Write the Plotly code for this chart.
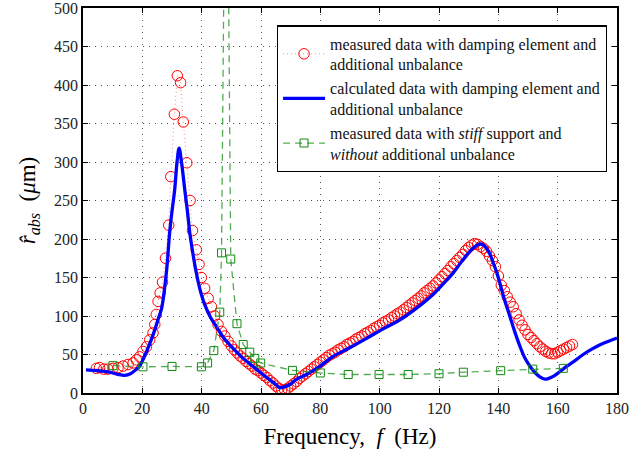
import plotly.graph_objects as go

f_meas = [4.5, 5.6, 7.0, 8.4, 10.1, 11.8, 13.5, 15.2, 16.9, 18.0, 19.1, 20.2, 21.4,
          22.5, 23.6, 24.2, 24.7, 25.3, 26.0, 26.8, 27.8, 28.9, 29.6, 30.8, 31.8,
          32.9, 33.8, 35.0, 36.1, 36.9, 38.2, 39.1, 39.9, 41.0, 42.2, 43.3, 44.4,
          45.5, 46.7, 47.8, 48.9, 50.0, 51.0, 52.0, 53.0, 54.0, 55.0, 56.0, 57.0,
          58.0, 59.0, 60.0, 61.0, 62.0, 63.0, 64.0, 65.0, 66.0, 67.0, 68.0, 69.0,
          70.0, 71.0, 72.0, 73.0, 74.0, 75.0, 76.0, 77.0, 78.0, 79.0, 80.0, 81.0,
          82.0, 83.0, 84.0, 85.0, 86.0, 87.0, 88.0, 89.0, 90.0, 91.0, 92.0, 93.0,
          94.0, 95.0, 96.0, 97.0, 98.0, 99.0, 100.0, 101.0, 102.0, 103.0, 104.0,
          105.0, 106.0, 107.0, 108.0, 109.0, 110.0, 111.0, 112.0, 113.0, 114.0,
          115.0, 116.0, 117.0, 118.0, 119.0, 120.0, 121.0, 122.0, 123.0, 124.0,
          125.0, 126.0, 127.0, 128.0, 129.0, 130.0, 131.0, 132.0, 133.0, 134.0,
          135.0, 136.0, 137.0, 138.0, 139.0, 140.0, 141.0, 142.0, 143.0, 144.0,
          145.0, 146.0, 147.0, 148.0, 149.0, 150.0, 151.0, 152.0, 153.0, 154.0,
          155.0, 156.0, 157.0, 158.0, 159.0, 160.0, 161.0, 162.0, 163.0, 164.0, 165.0]
r_meas = [32, 33, 31, 31, 32, 33, 35, 37, 39, 43, 47, 54, 60,
          69, 78, 89, 102, 119, 130, 144, 175, 218, 281, 362, 412,
          403, 352, 299, 250, 211, 186, 167, 150, 136, 123, 112, 100,
          89, 80, 74, 67, 61, 56, 52, 48, 45, 41, 38, 35,
          31, 29, 26, 23, 20, 16, 13, 9, 6, 4, 4, 6,
          9, 12, 15, 19, 22, 25, 28, 31, 34, 37, 40, 43,
          46, 49, 51, 53, 56, 58, 60, 63, 65, 67, 70, 72,
          74, 77, 79, 81, 84, 86, 88, 91, 93, 95, 98,
          100, 103, 105, 108, 111, 114, 117, 120, 123, 126,
          130, 133, 136, 139, 143, 147, 151, 155, 159, 164,
          168, 172, 176, 180, 185, 189, 192, 194, 193, 190,
          188, 184, 178, 172, 164, 152, 140, 133, 125, 118,
          112, 103, 95, 88, 82, 76, 72, 68, 64, 60,
          57, 54, 52, 51, 51, 53, 55, 57, 59, 61, 63]

# calculated data, damping element + additional unbalance
f_calc = [1, 5, 9, 12, 14, 16, 18, 19.1, 21, 23, 24.2, 25.5, 26.5, 28.1, 29.2, 30,
          30.9, 31.7, 32.4, 33.2, 34.3, 35.2, 36, 37.1, 38.2, 39.4, 41, 43, 45,
          47.5, 50.6, 54, 57.3, 60, 63, 65, 66.3, 67.5, 69.7, 72, 75.3, 79.8,
          84.3, 90, 95.6, 101, 106.8, 112, 118, 121.5, 124.8, 127.5, 130.4,
          132.5, 133.8, 135, 136, 137.2, 138.3, 139.5, 140.5, 142, 143.9, 145.5,
          147.3, 149, 150.7, 152.5, 154, 155.7, 157, 158.5, 160.5, 163, 165.5,
          168.6, 171.5, 174.3, 177, 180]
r_calc = [30, 29, 27, 24, 23, 25, 31, 35, 50, 69, 82, 98, 110, 156, 208, 236,
          264, 300, 318, 300, 264, 236, 208, 180, 156, 135, 115, 98, 86,
          71, 58, 45, 34.5, 26, 17, 11, 7, 7.5, 11, 18, 24, 34.5,
          47.5, 59, 71, 83, 95, 109, 128, 142, 156, 170, 184,
          191, 193.5, 192, 188, 180, 169, 156, 143, 122, 99.5, 80,
          60.5, 45, 34.5, 26, 21, 18, 19, 21.6, 27, 34.5, 41,
          50, 57, 62.7, 67, 71.4]

# measured data, stiff support, no additional unbalance
f_stiff = [10.1, 20.2, 30.0, 39.9, 42.0, 44.1, 46.1, 46.7, 48.3, 49.8, 51.9, 54.0,
           56.2, 57.9, 59.9, 70.6, 80.0, 89.4, 99.8, 109.6, 120.0, 128.2, 140.8,
           151.6, 161.9]
r_stiff = [35.5, 34, 34.5, 34, 39, 55, 105, 182, 900, 174, 90, 63,
           53, 45, 39, 29.4, 26, 24, 24, 24, 25, 27, 29,
           31, 32]

x_ticks = list(range(0, 181, 20))
y_ticks = list(range(0, 501, 50))

serif = "Liberation Serif"

fig = go.Figure()
fig.add_trace(go.Scatter(
    x=f_meas, y=r_meas, mode="lines+markers",
    name="measured data with damping element and<br>additional unbalance",
    line=dict(color="rgba(255,90,90,0.7)", width=1, dash="1px,3px"),
    marker=dict(symbol="circle-open", size=10.5, color="red", line=dict(width=1)),
))
fig.add_trace(go.Scatter(
    x=f_calc, y=r_calc, mode="lines", line_shape="spline",
    name="calculated data with damping element and<br>additional unbalance",
    line=dict(color="#0000ff", width=3.3),
))
fig.add_trace(go.Scatter(
    x=f_stiff, y=r_stiff, mode="lines+markers",
    name="measured data with <i>stiff</i> support and<br><i>without</i> additional unbalance",
    line=dict(color="rgba(40,150,40,0.8)", width=1.3, dash="7px,5px"),
    marker=dict(symbol="square-open", size=8, color="#108a10", line=dict(width=1)),
))

axis_common = dict(
    showline=True, linecolor="black", linewidth=1.5, mirror="ticks",
    ticks="inside", ticklen=5, tickcolor="black",
    showgrid=True, gridcolor="#555555", griddash="1px,5px", gridwidth=1,
    zeroline=False, automargin=False, ticklabeloverflow="allow",
    tickfont=dict(family=serif, size=16, color="#222"),
)

fig.update_xaxes(range=[0, 180], tickvals=x_ticks,
                 title=dict(text="Frequency,  <i>f</i>  (Hz)",
                            font=dict(family=serif, size=23, color="black"),
                            standoff=12),
                 **axis_common)
fig.update_yaxes(range=[0, 500], tickvals=y_ticks,
                 title=dict(text="<i>r\u0302</i><sub><i>abs</i></sub>  (<i>\u03bc</i>m)",
                            font=dict(family=serif, size=23, color="black"),
                            standoff=12),
                 **axis_common)

fig.update_layout(
    width=636, height=454,
    margin=dict(l=83, r=19, t=8, b=61),
    plot_bgcolor="white", paper_bgcolor="white",
    font=dict(family=serif, color="black"),
    legend=dict(x=0.981, y=0.955, xanchor="right", yanchor="top",
                bgcolor="white", bordercolor="black", borderwidth=1.2,
                font=dict(family=serif, size=16, color="#111"),
                itemwidth=42, tracegroupgap=4),
)

fig.write_html("out.html", config={"displayModeBar": False},
               post_script="document.body.style.margin='0px';")
